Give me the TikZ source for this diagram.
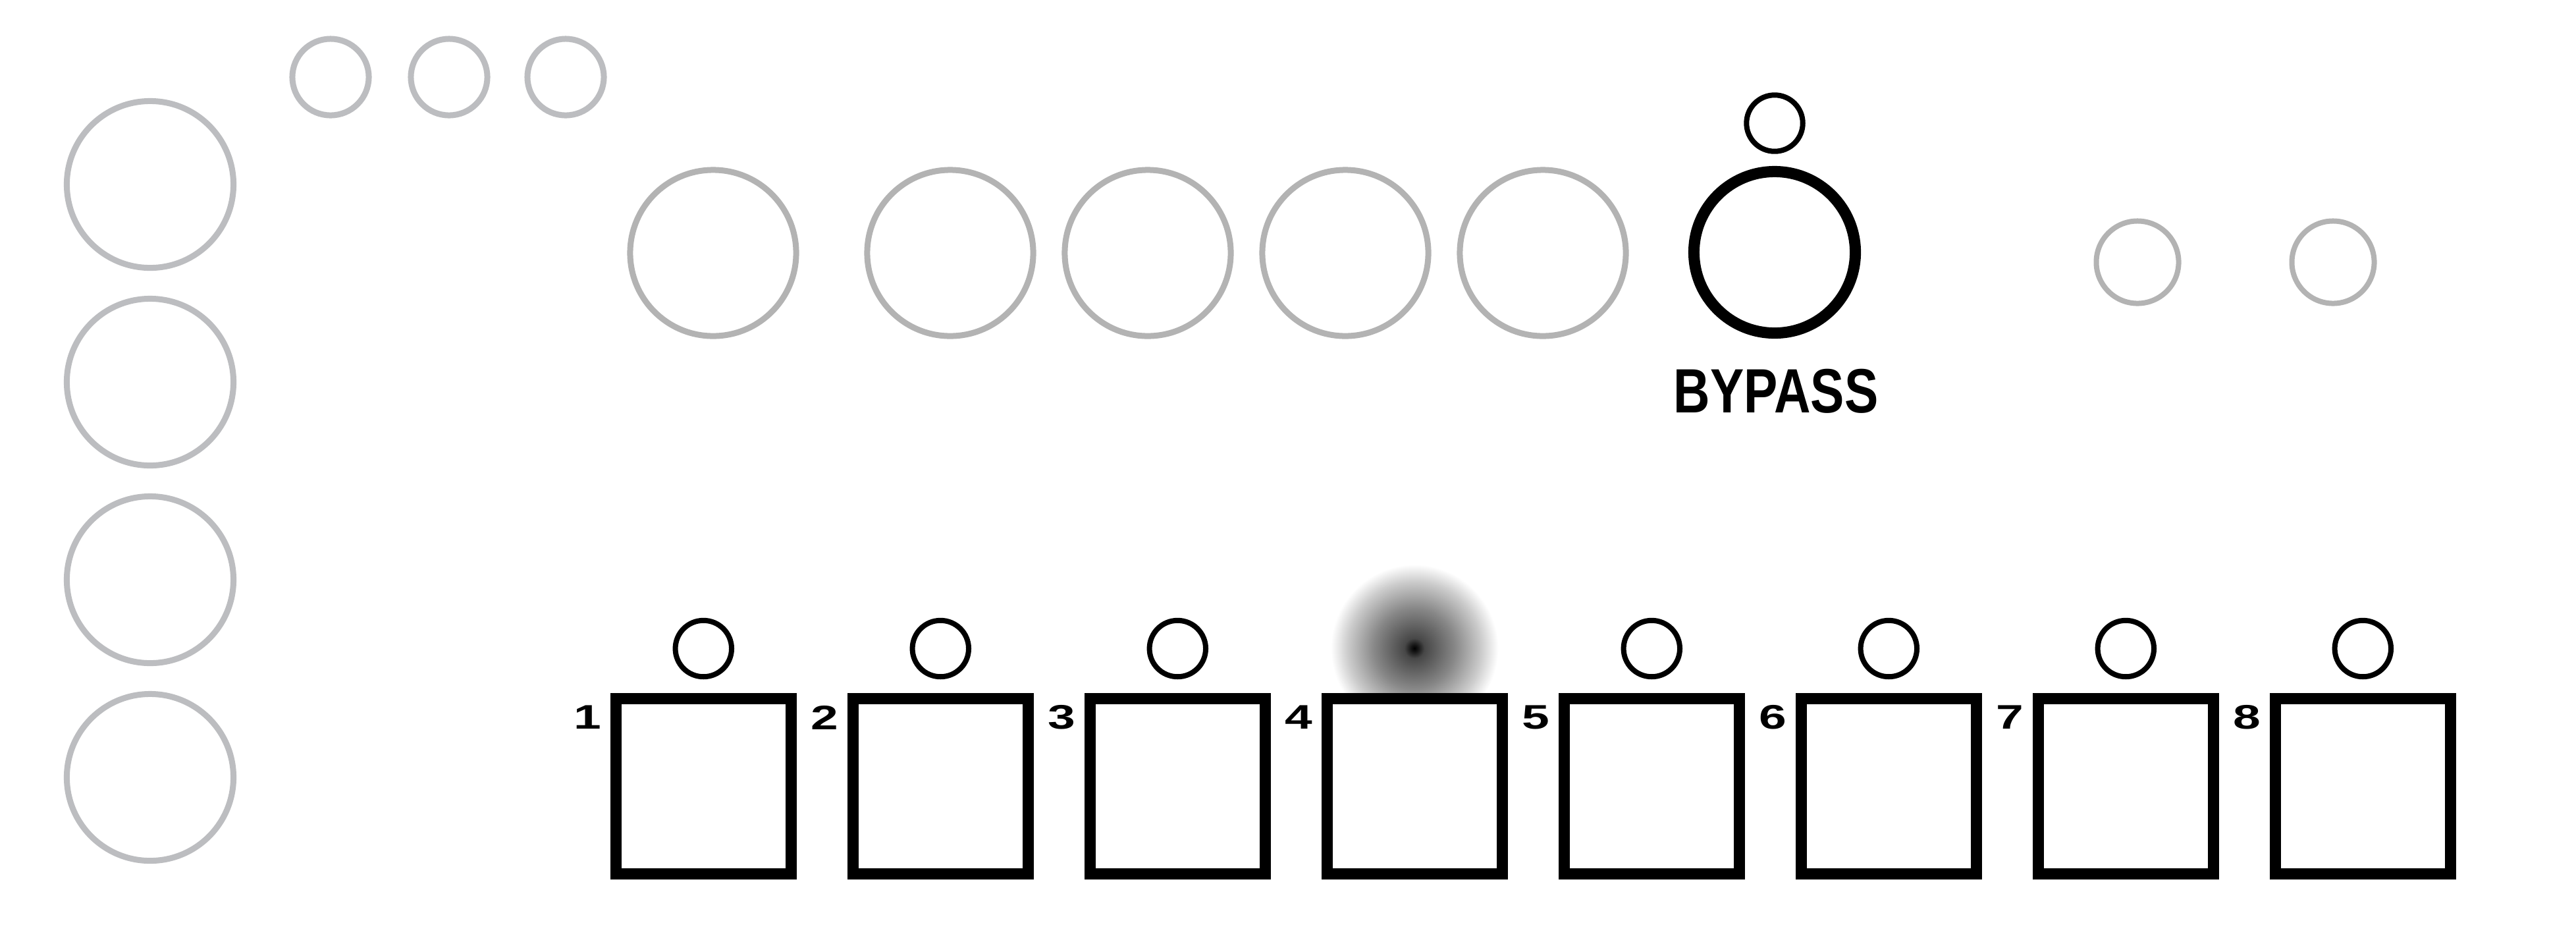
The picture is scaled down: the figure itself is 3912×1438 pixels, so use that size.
\documentclass[tikz,border=0pt]{standalone}
\usepackage{fontspec}
\setmainfont{Liberation Sans}
\usepackage{graphicx}
\definecolor{ringA}{HTML}{BCBDC0}
\definecolor{ringB}{HTML}{B3B3B3}
\pgfdeclareradialshading{glow}{\pgfpoint{0bp}{0bp}}{color(0bp)=(black); color(1bp)=(black!92); color(3bp)=(black!72); color(12bp)=(black!47); color(20bp)=(black!20); color(25bp)=(white); color(50bp)=(white)}
\newcommand\widedigit[1]{\scalebox{1.45}[1]{#1}}
\begin{document}
\begin{tikzpicture}[x=0.01cm, y=-0.01cm,
  bigknob/.style={circle, draw=ringA, line width=0.09cm, inner sep=0pt, minimum size=2.53cm},
  topknob/.style={circle, draw=ringA, line width=0.09cm, inner sep=0pt, minimum size=1.16cm},
  rowknob/.style={circle, draw=ringB, line width=0.09cm, inner sep=0pt, minimum size=2.52cm},
  sideknob/.style={circle, draw=ringB, line width=0.08cm, inner sep=0pt, minimum size=1.25cm},
  bypassring/.style={circle, draw=black, line width=0.17cm, inner sep=0pt, minimum size=2.45cm},
  ledring/.style={circle, draw=black, line width=0.08cm, inner sep=0pt, minimum size=0.854cm},
  stepbox/.style={rectangle, draw=black, fill=white, line width=0.17cm, inner sep=0pt, minimum size=2.663cm},
  glowdot/.style={circle, inner sep=0pt, minimum size=2.54cm, shade, shading=glow},
  steplabel/.style={inner sep=0pt, font=\fontsize{14.7}{16}\selectfont\bfseries},
  bypasslabel/.style={inner sep=0pt, font=\fontsize{27}{30}\selectfont\bfseries}
]
\useasboundingbox (0,0) rectangle (3912,1438);
\fill[white] (0,0) rectangle (3912,1438);

% left column
\node[bigknob] (L1) at (228,280) {};
\node[bigknob] (L2) at (228,580) {};
\node[bigknob] (L3) at (228,880) {};
\node[bigknob] (L4) at (228,1180) {};

% top small
\node[topknob] (T1) at (502,117) {};
\node[topknob] (T2) at (682,117) {};
\node[topknob] (T3) at (859,117) {};

% row of large knobs
\node[rowknob] (K1) at (1083,384) {};
\node[rowknob] (K2) at (1443,384) {};
\node[rowknob] (K3) at (1743,384) {};
\node[rowknob] (K4) at (2043,384) {};
\node[rowknob] (K5) at (2343,384) {};

% bypass
\node[bypassring] (BP) at (2695,383) {};
\node[ledring] (BPled) at (2695,187) {};
\node[bypasslabel] (BPtext) at (2697,594) {\scalebox{0.81}[1]{BYPASS}};

% right small
\node[sideknob] (R1) at (3246,398) {};
\node[sideknob] (R2) at (3543,398) {};

% steps
\node[glowdot] (led4) at (2148,984) {};
\foreach \i in {1,...,8}{
  \pgfmathsetmacro\sx{1068.3+360*(\i-1)}
  \node[stepbox] (sq\i) at (\sx,1193.4) {};
  \ifnum\i=4\relax\else
    \node[ledring] (led\i) at (\sx,984.5) {};
  \fi
  \node[steplabel] (lab\i) at (\sx-175.7,1089) {\widedigit{\i}};
}
\end{tikzpicture}
\end{document}
